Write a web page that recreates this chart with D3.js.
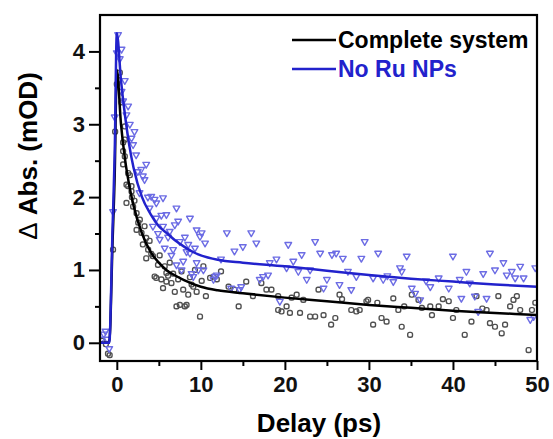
<!DOCTYPE html>
<html>
<head>
<meta charset="utf-8">
<script src="https://cdn.jsdelivr.net/npm/d3@7"></script>
<style>
  body { margin: 0; background: #fff; }
  text { font-family: "Liberation Sans", Arial, sans-serif; font-weight: bold; }
</style>
</head>
<body>
<div id="container"></div>
<script>
var svgWidth = 553;
var svgHeight = 439;

// delay (ps), delta abs (mOD)
var completeData = [
    [-1.7,0.03],[-1.3,-0.02],[-1.05,-0.15],[-0.85,-0.17],[-0.45,1.28],[-0.2,2.9],[0.0,3.55],[0.15,3.61],
    [0.36,3.71],[0.55,3.3],[0.75,2.75],[0.75,2.63],[0.75,2.45],[0.95,2.97],[0.95,2.79],[0.95,2.56],
    [1.15,2.17],[1.15,1.92],[1.35,2.33],[1.35,2.15],[1.55,2.3],[1.75,2.15],[1.75,2.08],[1.8,2.0],
    [1.94,1.87],[2.1,1.95],[2.35,1.78],[2.35,1.55],[2.55,1.65],[2.74,1.69],[2.94,1.51],[3.1,1.35],
    [3.3,1.6],[3.5,1.44],[3.5,1.16],[3.73,1.28],[3.9,1.4],[4.1,1.22],[4.3,1.19],[4.5,0.91],
    [4.7,0.89],[4.9,1.07],[5.1,1.2],[5.3,0.87],[5.5,0.75],[5.7,1.05],[5.9,0.96],[5.9,0.84],
    [6.1,0.92],[6.3,1.1],[6.5,0.82],[6.7,0.95],[6.9,0.7],[7.1,0.5],[7.3,0.87],[7.5,0.52],
    [7.7,0.98],[7.9,0.73],[8.1,0.5],[8.3,0.52],[8.5,0.66],[8.7,0.9],[8.9,0.8],[9.1,0.77],
    [9.3,1.0],[9.5,0.7],[9.9,0.36],[10.1,0.85],[10.3,1.05],[10.6,0.64],[11.1,0.89],[11.5,0.91],
    [11.9,0.87],[12.4,0.98],[13.3,0.77],[14.0,0.73],[14.5,0.5],[15.4,0.84],[16.2,0.64],[17.2,0.82],
    [17.8,0.73],[18.4,0.73],[19.2,0.64],[19.2,0.45],[19.6,0.43],[20.2,0.5],[20.6,0.41],[20.8,0.62],
    [21.4,0.66],[21.8,0.41],[22.2,0.59],[23.0,0.36],[23.6,0.36],[24.0,0.73],[24.6,0.38],[25.5,0.25],
    [26.0,0.34],[26.5,0.66],[26.8,0.6],[27.9,0.45],[28.5,0.43],[28.9,0.45],[29.7,0.57],[29.9,0.59],
    [30.5,0.25],[31.0,0.55],[31.5,0.34],[32.1,0.29],[32.9,0.61],[33.5,0.45],[33.9,0.22],[34.2,0.5],
    [34.9,0.11],[35.1,0.66],[35.9,0.59],[36.3,0.48],[37.3,0.5],[37.5,0.38],[38.3,0.5],[38.8,0.6],
    [39.5,0.57],[40.0,0.34],[40.4,0.45],[41.4,0.11],[42.2,0.29],[42.8,0.64],[43.5,0.47],[44.0,0.45],
    [44.4,0.27],[45.0,0.22],[45.4,0.64],[45.8,0.13],[46.2,0.25],[46.8,0.5],[47.2,0.59],[47.6,0.64],
    [48.0,0.45],[49.0,-0.1],[49.4,0.45],[49.8,0.55]
];

var noRuData = [
    [-1.8,0.05],[-1.55,0.12],[-1.35,0.16],[-1.15,0.05],[-0.9,-0.08],[-0.45,1.8],[-0.25,3.1],[0.0,3.98],
    [0.15,4.23],[0.35,3.9],[0.56,4.03],[0.56,3.45],[0.75,3.32],[0.95,3.6],[1.15,3.13],[1.35,3.25],
    [1.55,3.0],[1.75,2.81],[1.94,2.72],[2.1,2.9],[2.3,2.58],[2.5,2.35],[2.7,2.06],[2.9,2.38],
    [3.1,2.29],[3.3,2.24],[3.5,2.45],[3.7,2.0],[3.9,1.85],[4.1,2.01],[4.3,1.6],[4.5,1.97],
    [4.7,1.92],[4.7,1.71],[4.9,1.5],[5.1,1.42],[5.3,1.75],[5.5,1.99],[5.5,1.6],[5.7,1.3],
    [5.9,1.76],[6.1,1.45],[6.3,1.53],[6.5,1.2],[6.7,1.28],[6.9,1.62],[7.1,1.85],[7.1,1.07],
    [7.3,1.67],[7.5,1.39],[7.7,1.0],[7.9,1.12],[8.1,1.45],[8.3,1.25],[8.5,1.35],[8.7,1.71],
    [8.7,1.23],[8.9,0.95],[9.1,0.91],[9.3,1.3],[9.5,1.55],[9.5,1.1],[9.7,1.0],[9.9,1.46],
    [10.1,1.51],[10.3,1.0],[10.5,1.37],[11.5,0.87],[11.7,0.91],[11.9,0.93],[12.4,1.15],[13.1,1.51],
    [13.6,0.75],[14.0,1.26],[14.6,0.73],[14.8,0.77],[15.0,1.32],[16.0,1.51],[16.6,1.37],[17.0,0.87],
    [17.4,0.91],[18.0,0.93],[18.2,1.1],[19.0,1.15],[19.4,0.57],[20.2,1.03],[20.4,1.35],[21.0,1.12],
    [21.6,0.98],[22.0,1.21],[22.6,0.87],[23.0,1.0],[23.6,1.39],[24.2,1.23],[24.6,0.75],[25.0,0.87],
    [25.6,1.21],[26.1,1.23],[26.5,0.8],[26.9,1.16],[27.5,0.98],[27.9,0.73],[28.5,0.91],[29.1,1.16],
    [29.5,1.39],[30.5,0.89],[31.1,1.23],[31.7,0.87],[32.2,0.92],[32.9,0.84],[33.7,1.03],[33.9,0.98],
    [34.5,1.19],[35.1,0.75],[35.5,0.68],[36.1,0.59],[36.8,0.85],[37.3,0.77],[38.3,0.89],[39.5,0.75],
    [40.0,1.19],[40.8,0.87],[41.0,0.61],[41.6,0.98],[42.0,0.82],[42.6,0.64],[43.0,0.43],[43.6,0.95],
    [44.0,0.61],[44.4,1.23],[45.0,1.0],[46.0,1.1],[46.4,0.93],[47.0,0.98],[47.4,0.89],[48.0,1.05],
    [48.4,0.89],[49.2,0.32],[49.6,0.36],[49.8,1.03]
];

// fitted curves
var completeFit = [
    [-2,0],[-0.9,0],[-0.5,1.4],[-0.25,2.3],[0,3.75],[0.5,3.0],[1,2.5],[1.5,2.15],[2,1.88],[3,1.5],
    [4,1.25],[5,1.1],[6,0.99],[7,0.92],[8,0.86],[10,0.77],[12,0.72],[15,0.68],[20,0.62],[25,0.57],
    [30,0.52],[35,0.48],[40,0.44],[45,0.41],[50,0.38]
];
var noRuFit = [
    [-2,0],[-0.9,0],[-0.5,1.6],[-0.25,2.6],[0,4.25],[0.5,3.6],[1,3.1],[1.5,2.7],[2,2.4],[3,2.0],
    [4,1.77],[5,1.6],[6,1.5],[7,1.4],[8,1.32],[9,1.25],[10,1.2],[12,1.14],[15,1.1],[20,1.05],
    [25,0.99],[30,0.93],[35,0.88],[40,0.84],[45,0.8],[50,0.77]
];

var xTicks = [0, 10, 20, 30, 40, 50];
var xMinorTicks = [5, 15, 25, 35, 45];
var yTicks = [0, 1, 2, 3, 4];
var yMinorTicks = [0.5, 1.5, 2.5, 3.5];

var legendItems = [
    {name: 'Complete system', color: '#000000'},
    {name: 'No Ru NPs', color: '#2222cc'}
];

var plotLeft = 100, plotTop = 15, plotRight = 537, plotBottom = 361;

var x = d3.scaleLinear().domain([-2, 50]).range([plotLeft, plotRight]);
var y = d3.scaleLinear().domain([-0.25, 4.5]).range([plotBottom, plotTop]);

var svg = d3.select('#container').append('svg')
        .attr('width', svgWidth)
        .attr('height', svgHeight)
;

svg.append('clipPath').attr('id', 'plot-clip')
    .append('rect')
    .attr('x', plotLeft).attr('y', plotTop)
    .attr('width', plotRight - plotLeft).attr('height', plotBottom - plotTop)
;

var plot = svg.append('g').attr('clip-path', 'url(#plot-clip)');

// black squares
plot.selectAll('.sq').data(completeData)
    .enter().append('rect')
    .attr('class', 'sq')
    .attr('x', function (d) { return x(d[0]) - 2.4; })
    .attr('y', function (d) { return y(d[1]) - 2.4; })
    .attr('width', 4.8)
    .attr('height', 4.8)
    .attr('rx', 1.8)
    .style('fill', 'none')
    .style('stroke', '#505050')
    .style('stroke-width', 1.4)
;

// blue down triangles
var tri = d3.symbol().type(d3.symbolTriangle).size(19);
plot.selectAll('.tri').data(noRuData)
    .enter().append('path')
    .attr('class', 'tri')
    .attr('d', tri)
    .attr('transform', function (d) { return 'translate(' + x(d[0]) + ',' + y(d[1]) + ') rotate(180)'; })
    .style('fill', 'none')
    .style('stroke', '#6c6ce4')
    .style('stroke-width', 1.4)
    .style('stroke-linejoin', 'round')
;

var line = d3.line()
    .x(function (d) { return x(d[0]); })
    .y(function (d) { return y(d[1]); })
    .curve(d3.curveMonotoneX)
;

plot.append('path').datum(completeFit)
    .attr('d', line)
    .style('fill', 'none')
    .style('stroke', '#000')
    .style('stroke-width', 2.5)
;
plot.append('path').datum(noRuFit)
    .attr('d', line)
    .style('fill', 'none')
    .style('stroke', legendItems[1].color)
    .style('stroke-width', 2.5)
;

// frame
svg.append('rect')
    .attr('x', plotLeft).attr('y', plotTop)
    .attr('width', plotRight - plotLeft).attr('height', plotBottom - plotTop)
    .style('fill', 'none')
    .style('stroke', '#000')
    .style('stroke-width', 2.2)
;

svg.append('g').attr('transform', 'translate(0,' + plotBottom + ')')
    .call(d3.axisBottom(x).tickValues(xTicks).tickSize(9).tickSizeOuter(0).tickPadding(6));
svg.append('g').attr('transform', 'translate(0,' + plotBottom + ')')
    .call(d3.axisBottom(x).tickValues(xMinorTicks).tickSize(5).tickSizeOuter(0).tickFormat(''));
svg.append('g').attr('transform', 'translate(' + plotLeft + ',0)')
    .call(d3.axisLeft(y).tickValues(yTicks).tickFormat(d3.format('d')).tickSize(11).tickSizeOuter(0).tickPadding(4));
svg.append('g').attr('transform', 'translate(' + plotLeft + ',0)')
    .call(d3.axisLeft(y).tickValues(yMinorTicks).tickSize(5).tickSizeOuter(0).tickFormat(''));

svg.selectAll('.domain').remove();
svg.selectAll('.tick line').style('stroke', '#000').style('stroke-width', 2);
svg.selectAll('.tick text')
    .style('font-size', '22px')
    .style('font-family', '"Liberation Sans", Arial, sans-serif')
    .style('font-weight', 'bold')
    .style('fill', '#111')
;

svg.append('text')
    .attr('x', 319)
    .attr('y', 432)
    .attr('text-anchor', 'middle')
    .style('font-size', '26px')
    .text('Delay (ps)')
;

var yTitle = svg.append('text')
    .attr('transform', 'translate(37,156) rotate(-90)')
    .attr('text-anchor', 'middle')
    .style('font-size', '26px')
;
yTitle.append('tspan').style('font-weight', 'normal').text('\u0394');
yTitle.append('tspan').text(' Abs. (mOD)');

var legend = svg.append('g');
legendItems.forEach(function (item, i) {
    var ly = 40 + i * 29;
    legend.append('line')
        .attr('x1', 292).attr('x2', 336)
        .attr('y1', ly).attr('y2', ly)
        .style('stroke', item.color)
        .style('stroke-width', 2.6)
    ;
    legend.append('text')
        .attr('x', 338)
        .attr('y', ly + 8)
        .style('font-size', '23px')
        .style('fill', item.color)
        .text(item.name)
    ;
});
</script>
</body>
</html>
